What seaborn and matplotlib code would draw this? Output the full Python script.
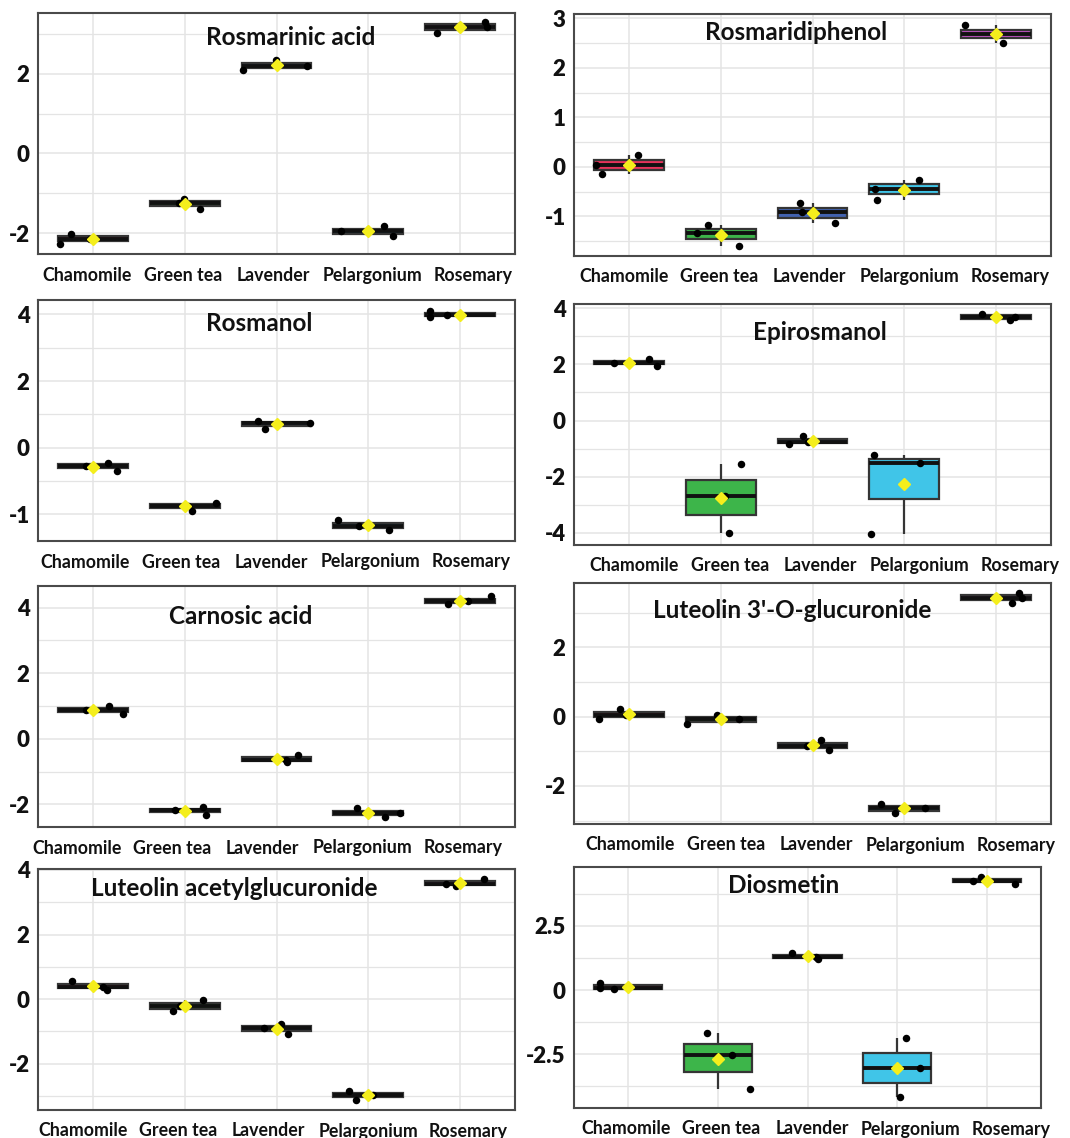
import numpy as np
import pandas as pd
import matplotlib
matplotlib.use("Agg")
import matplotlib.pyplot as plt
import matplotlib.transforms as mtransforms
from matplotlib.ticker import AutoMinorLocator, FixedLocator
import seaborn as sns

plants = ["Chamomile", "Green tea", "Lavender", "Pelargonium", "Rosemary"]
plant_colors = ["#E5335B", "#3DB54A", "#4262B0", "#40C5E8", "#C152C3"]

# Scaled intensities, three replicates per plant
rosmarinic_acid = [[-2.01, -2.27, -2.14], [-1.39, -1.23, -1.15], [2.08, 2.34, 2.20],
                   [-2.08, -1.83, -1.95], [3.18, 3.29, 3.03]]
rosmaridiphenol = [[0.24, 0.03, -0.14], [-1.17, -1.34, -1.59], [-1.14, -0.92, -0.72],
                   [-0.66, -0.45, -0.26], [2.50, 2.86, 2.69]]
rosmanol = [[-0.54, -0.70, -0.47], [-1.89, -1.74, -1.66], [0.73, 0.56, 0.81],
            [-2.46, -2.16, -2.34], [3.91, 3.98, 4.09]]
epirosmanol = [[2.06, 2.18, 1.96], [-1.53, -2.69, -4.02], [-0.54, -0.82, -0.78],
               [-1.51, -1.21, -4.04], [3.68, 3.81, 3.57]]
carnosic_acid = [[1.01, 0.76, 0.88], [-2.18, -2.31, -2.08], [-0.72, -0.50, -0.64],
                 [-2.26, -2.12, -2.37], [4.34, 4.10, 4.19]]
luteolin_3_glucuronide = [[0.21, 0.06, -0.07], [-0.21, -0.07, 0.06], [-0.67, -0.97, -0.84],
                          [-2.79, -2.51, -2.65], [3.58, 3.29, 3.43]]
luteolin_acetylglucuronide = [[0.39, 0.30, 0.56], [-0.04, -0.38, -0.21], [-0.90, -0.78, -1.07],
                              [-2.97, -3.11, -2.84], [3.73, 3.58, 3.49]]
diosmetin = [[0.09, 0.03, 0.28], [-1.68, -2.53, -3.86], [1.28, 1.45, 1.19],
             [-1.87, -3.04, -4.17], [4.13, 4.40, 4.25]]

# y tick values and the labels printed on them
rosmarinic_ticks, rosmarinic_labels = [2, 0, -2], ["2", "0", "-2"]
rosmaridiphenol_ticks, rosmaridiphenol_labels = [3, 2, 1, 0, -1], ["3", "2", "1", "0", "-1"]
rosmanol_ticks, rosmanol_labels = [4, 2, 0, -2], ["4", "2", "0", "-1"]
epirosmanol_ticks, epirosmanol_labels = [4, 2, 0, -2, -4], ["4", "2", "0", "-2", "-4"]
carnosic_ticks, carnosic_labels = [4, 2, 0, -2], ["4", "2", "0", "-2"]
lut3_ticks, lut3_labels = [2, 0, -2], ["2", "0", "-2"]
lutac_ticks, lutac_labels = [4, 2, 0, -2], ["4", "2", "0", "-2"]
diosmetin_ticks, diosmetin_labels = [2.5, 0, -2.5], ["2.5", "0", "-2.5"]

W, H = 1070, 1138

# title, values, ticks, labels, ylim, frame box in px (x0, top, x1, bottom),
# title anchor (axes fraction), horizontal nudge of each x tick label in px
panels = [
    ("Rosmarinic acid", rosmarinic_acid, rosmarinic_ticks, rosmarinic_labels,
     (-2.52, 3.52), (38, 13, 515, 254), (0.53, 0.90), (-6, -2, -3, 4, 13)),
    ("Rosmaridiphenol", rosmaridiphenol, rosmaridiphenol_ticks, rosmaridiphenol_labels,
     (-1.80, 3.09), (574, 14, 1051, 256), (0.465, 0.925), (-5, -2, -3, 5, 14)),
    ("Rosmanol", rosmanol, rosmanol_ticks, rosmanol_labels,
     (-2.80, 4.43), (38, 300, 515, 541), (0.463, 0.903), (-8, -4, -5, 2, 11)),
    ("Epirosmanol", epirosmanol, epirosmanol_ticks, epirosmanol_labels,
     (-4.43, 4.15), (574, 304, 1051, 545), (0.516, 0.883), (5, 9, 8, 15, 24)),
    ("Carnosic acid", carnosic_acid, carnosic_ticks, carnosic_labels,
     (-2.69, 4.66), (38, 586, 515, 827), (0.425, 0.873), (-16, -13, -14, -6, 3)),
    ("Luteolin 3'-O-glucuronide", luteolin_3_glucuronide, lut3_ticks, lut3_labels,
     (-3.10, 3.86), (574, 583, 1051, 824), (0.458, 0.884), (1, 5, 4, 11, 20)),
    ("Luteolin acetylglucuronide", luteolin_acetylglucuronide, lutac_ticks, lutac_labels,
     (-3.43, 4.03), (38, 869, 515, 1110), (0.411, 0.92), (-10, -7, -8, 0, 8)),
    ("Diosmetin", diosmetin, diosmetin_ticks, diosmetin_labels,
     (-4.59, 4.79), (574, 867, 1041, 1108), (0.448, 0.924), (-2, 3, 5, 13, 24)),
]

sns.set_style("white")
plt.rcParams["font.family"] = ["Lato", "DejaVu Sans"]
plt.rcParams["font.weight"] = "bold"

fig = plt.figure(figsize=(W / 100, H / 100), dpi=100)
np.random.seed(11)

frame_color = "#4a4a4a"
grid_color = "#e4e4e4"

for title, values, ticks, labels, ylim, box, tpos, nudges in panels:
    x0, top, x1, bottom = box
    ax = fig.add_axes([x0 / W, 1 - bottom / H, (x1 - x0) / W, (bottom - top) / H])

    df = pd.DataFrame({
        "plant": np.repeat(plants, [len(v) for v in values]),
        "value": np.concatenate(values),
    })

    sns.boxplot(
        data=df, x="plant", y="value", hue="plant", order=plants, hue_order=plants,
        palette=plant_colors, saturation=1, legend=False, width=0.76,
        whis=(0, 100), showcaps=False, fliersize=0, linecolor="#353535", linewidth=1.6,
        medianprops=dict(color="#111111", linewidth=2.8),
        showmeans=True,
        meanprops=dict(marker="D", markerfacecolor="#F4EE1C", markeredgecolor="#F4EE1C",
                       markersize=6, zorder=6),
        ax=ax,
    )
    sns.stripplot(
        data=df, x="plant", y="value", order=plants, color="black", size=5.4,
        jitter=0.38, linewidth=0, zorder=5, ax=ax,
    )

    ax.set_xlim(-0.6, 4.6)
    ax.set_ylim(*ylim)
    ax.yaxis.set_major_locator(FixedLocator(ticks))
    ax.set_yticklabels(labels)
    ax.yaxis.set_minor_locator(AutoMinorLocator(2))
    ax.set_xlabel("")
    ax.set_ylabel("")

    ax.set_axisbelow(True)
    ax.grid(True, which="major", axis="both", color=grid_color, linewidth=1.1)
    ax.grid(True, which="minor", axis="y", color=grid_color, linewidth=0.9)

    for sp in ax.spines.values():
        sp.set_color(frame_color)
        sp.set_linewidth(1.5)

    ax.tick_params(axis="x", which="major", length=3, width=1, color=frame_color,
                   pad=6, labelsize=12.8, labelcolor="#111111")
    ax.tick_params(axis="y", which="major", length=3, width=1, color=frame_color,
                   pad=3, labelsize=16, labelcolor="#111111")
    ax.tick_params(axis="y", which="minor", length=0)
    for lbl, dx in zip(ax.get_xticklabels(), nudges):
        lbl.set_fontweight("bold")
        lbl.set_transform(lbl.get_transform() +
                          mtransforms.ScaledTranslation(dx / 100, 0, fig.dpi_scale_trans))
    for lbl in ax.get_yticklabels():
        lbl.set_fontweight("heavy")

    ax.text(tpos[0], tpos[1], title, transform=ax.transAxes, ha="center", va="center",
            fontsize=17.5, fontweight="bold", color="#111111", zorder=7)

fig.savefig("out.png", dpi=100, facecolor="white")
